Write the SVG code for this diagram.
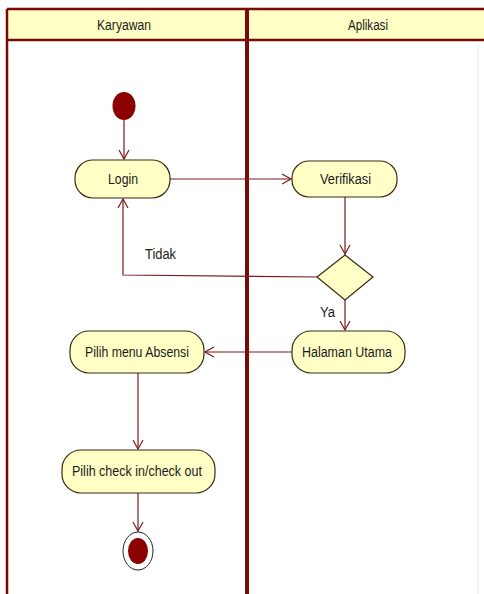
<svg xmlns="http://www.w3.org/2000/svg" width="484" height="594" viewBox="0 0 484 594">
<style>
.hdr{fill:#ffffc6}
.border{stroke:#7a0a0a;fill:none}
.act{fill:#ffffc6;stroke:#3a2a10;stroke-width:1.2}
.t{font-family:"Liberation Sans",Arial,sans-serif;font-size:14px;fill:#1a1a1a;text-anchor:middle}
.lbl{font-family:"Liberation Sans",Arial,sans-serif;font-size:14px;fill:#1a1a1a}
.c{stroke:#7a1a1a;stroke-width:1.2;fill:none}
</style>
<defs>
<marker id="arr" markerWidth="12" markerHeight="12" refX="10" refY="6" orient="auto" markerUnits="userSpaceOnUse">
<path d="M1,1 L10,6 L1,11" fill="none" stroke="#7a1a1a" stroke-width="1.2"/>
</marker>
</defs>
<rect width="484" height="594" fill="#ffffff"/>
<g id="lanes">
<rect class="hdr" x="7" y="9" width="477" height="31"/>
<line class="border" x1="7" y1="9" x2="484" y2="9" stroke-width="2.5"/>
<line class="border" x1="7" y1="40" x2="484" y2="40" stroke-width="2.5"/>
<line class="border" x1="7" y1="9" x2="7" y2="594" stroke-width="2.5"/>
<line class="border" x1="247" y1="9" x2="247" y2="594" stroke-width="4"/>
<line x1="478" y1="44" x2="478" y2="594" stroke="#e6e6e6" stroke-width="1"/>
<text class="t" x="124" y="30" textLength="54" lengthAdjust="spacingAndGlyphs">Karyawan</text>
<text class="t" x="368" y="30" textLength="40" lengthAdjust="spacingAndGlyphs">Aplikasi</text>
</g>
<g id="connectors">
<line class="c" x1="124" y1="120" x2="124" y2="159" marker-end="url(#arr)"/>
<line class="c" x1="170" y1="179" x2="291" y2="179" marker-end="url(#arr)"/>
<line class="c" x1="345" y1="197" x2="345" y2="254" marker-end="url(#arr)"/>
<polyline class="c" points="317,277 123,275 123,199" marker-end="url(#arr)"/>
<line class="c" x1="345" y1="300" x2="345" y2="330" marker-end="url(#arr)"/>
<line class="c" x1="292" y1="352" x2="205" y2="352" marker-end="url(#arr)"/>
<line class="c" x1="138" y1="373" x2="138" y2="449" marker-end="url(#arr)"/>
<line class="c" x1="138" y1="493" x2="138" y2="531" marker-end="url(#arr)"/>
<text class="lbl" x="145" y="259" textLength="31" lengthAdjust="spacingAndGlyphs">Tidak</text>
<text class="lbl" x="320" y="317" textLength="15" lengthAdjust="spacingAndGlyphs">Ya</text>
</g>
<g id="start">
<ellipse cx="124" cy="106" rx="11.5" ry="14" fill="#8b0000"/>
</g>
<g id="login">
<rect class="act" x="75" y="160" width="95" height="38" rx="18"/>
<text class="t" x="123" y="184" textLength="30" lengthAdjust="spacingAndGlyphs">Login</text>
</g>
<g id="verifikasi">
<rect class="act" x="292" y="161" width="105" height="36" rx="17"/>
<text class="t" x="345.5" y="184" textLength="51" lengthAdjust="spacingAndGlyphs">Verifikasi</text>
</g>
<g id="decision">
<polygon class="act" points="345,255 373,277 345,300 317,277"/>
</g>
<g id="halaman">
<rect class="act" x="292" y="331" width="113" height="42" rx="19"/>
<text class="t" x="347" y="356.5" textLength="90" lengthAdjust="spacingAndGlyphs">Halaman Utama</text>
</g>
<g id="pilihmenu">
<rect class="act" x="70" y="331" width="134" height="42" rx="19"/>
<text class="t" x="137" y="356.5" textLength="104" lengthAdjust="spacingAndGlyphs">Pilih menu Absensi</text>
</g>
<g id="pilihcheck">
<rect class="act" x="62" y="450" width="153" height="43" rx="19"/>
<text class="t" x="137" y="476" textLength="130" lengthAdjust="spacingAndGlyphs">Pilih check in/check out</text>
</g>
<g id="end">
<ellipse cx="138" cy="551" rx="15" ry="19" fill="#ffffff" stroke="#222" stroke-width="1"/>
<ellipse cx="138" cy="551" rx="10" ry="13" fill="#8b0000"/>
</g>
</svg>
